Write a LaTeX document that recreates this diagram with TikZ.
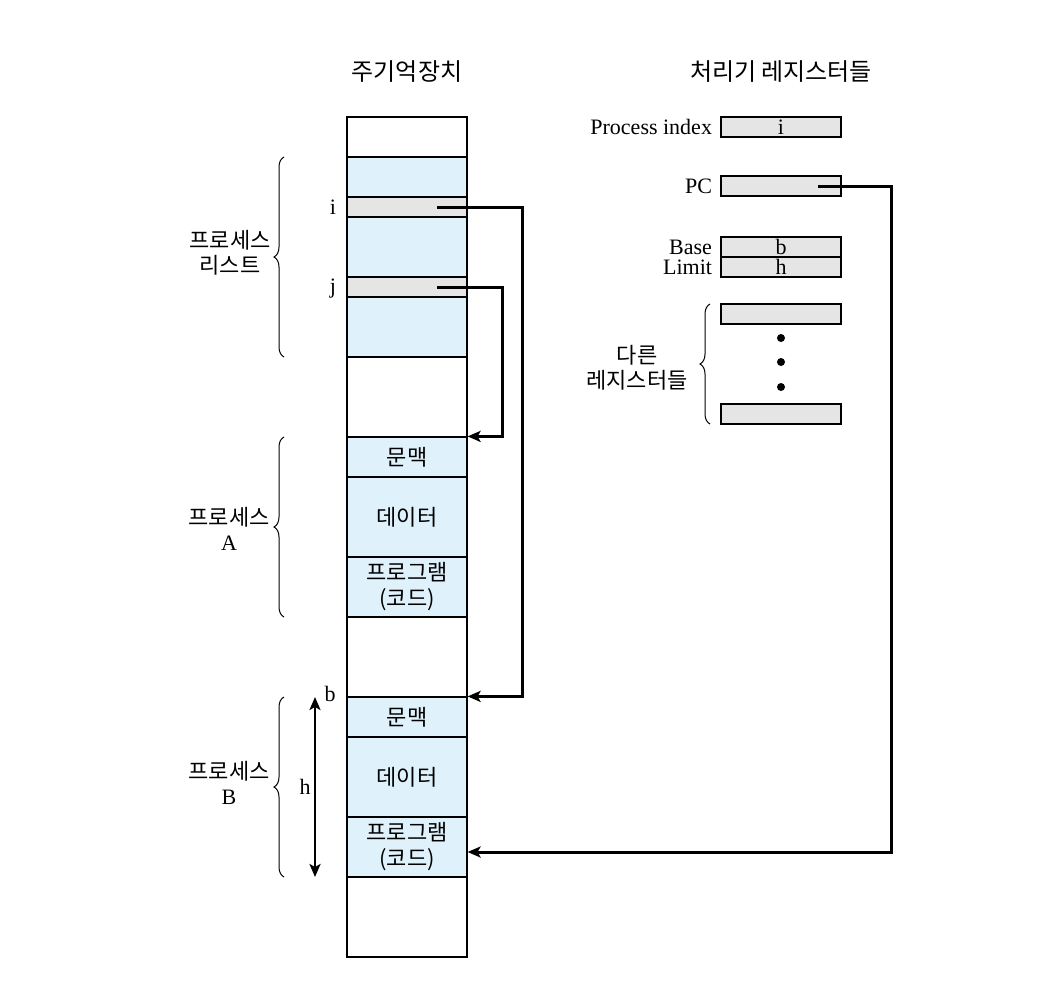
\documentclass[tikz,border=0pt]{standalone}
\usepackage{fontspec}
\setmainfont{Liberation Serif}
\newfontfamily\kr{Noto Sans CJK KR}
\usetikzlibrary{arrows.meta,decorations.pathreplacing,positioning}
\definecolor{memblue}{RGB}{223,241,251}
\definecolor{reggray}{RGB}{229,229,229}

\begin{document}
\begin{tikzpicture}[x=0.5pt,y=-0.5pt,
    cell/.style ={rectangle, draw, line width=0.6pt, minimum width=60pt, inner sep=0pt, align=center, font=\fontsize{11}{13}\selectfont\kr},
    reg/.style ={rectangle, draw, line width=0.6pt, fill=reggray, minimum width=60pt, minimum height=10pt, inner sep=0pt, font=\fontsize{11}{12}\selectfont},
    tag/.style ={inner sep=1pt, font=\fontsize{11}{12}\selectfont},
    txt/.style ={inner sep=1pt, align=center, font=\fontsize{11}{12.5}\selectfont\kr},
    curly/.style ={decorate, decoration={brace, amplitude=5pt}, line width=0.5pt},
    link/.style ={line width=1.5pt, -{Stealth[length=6.5pt, width=5.5pt, inset=1.5pt]}}]
   \useasboundingbox (0,0) rectangle (1055,1003);

   % main memory
   \node[cell, minimum height=20pt] (m0) at (407,137) {};
   \node[cell, fill=memblue, minimum height=20pt] (m1) at (407,177) {};
   \node[cell, fill=reggray, minimum height=10pt] (mi) at (407,207) {};
   \node[cell, fill=memblue, minimum height=30pt] (m2) at (407,247) {};
   \node[cell, fill=reggray, minimum height=10pt] (mj) at (407,287) {};
   \node[cell, fill=memblue, minimum height=30pt] (m3) at (407,327) {};
   \node[cell, minimum height=40pt] (m4) at (407,397) {};
   \node[cell, fill=memblue, minimum height=20pt] (a1) at (407,457) {문맥};
   \node[cell, fill=memblue, minimum height=40pt] (a2) at (407,517) {데이터};
   \node[cell, fill=memblue, minimum height=30pt] (a3) at (407,587) {프로그램\\(코드)};
   \node[cell, minimum height=40pt] (m5) at (407,657) {};
   \node[cell, fill=memblue, minimum height=20pt] (b1) at (407,717) {문맥};
   \node[cell, fill=memblue, minimum height=40pt] (b2) at (407,777) {데이터};
   \node[cell, fill=memblue, minimum height=30pt] (b3) at (407,847) {프로그램\\(코드)};
   \node[cell, minimum height=40pt] (m6) at (407,917) {};

   \node[txt, font=\fontsize{12}{13}\selectfont\kr] (tMem) at (407,72) {주기억장치};
   \node[txt, font=\fontsize{12}{13}\selectfont\kr] (tReg) at (781,72) {처리기 레지스터들};

   \node[tag] (li) at (333,207) {i};
   \node[tag] (lj) at (333,289) {j};
   \node[tag] (lb) at (330,694) {b};
   \node[tag] (lh) at (305,787) {h};

   % processor registers
   \node[reg] (pidx) at (781,127) {i};
   \node[reg] (pc) at (781,186) {};
   \node[reg] (base) at (781,247) {b};
   \node[reg] (limit) at (781,267) {h};
   \node[reg] (r1) at (781,314) {};
   \node[reg] (r2) at (781,414) {};
   \node[tag, left=3pt of pidx] (lpidx) {Process index};
   \node[tag, left=3pt of pc] (lpc) {PC};
   \node[tag, left=3pt of base] (lbase) {Base};
   \node[tag, left=3pt of limit] (llimit) {Limit};
   \fill (781,338) circle (2pt);
   \fill (781,362) circle (2pt);
   \fill (781,387) circle (2pt);

   \coordinate (ip) at (437,207);
   \coordinate (jp) at (437,287);
   \coordinate (pcp) at (818,186);

   \draw[link] (ip) -- ++(85,0) |- (b1.north east);
   \draw[link] (jp) -- ++(65,0) |- (a1.north east);
   \draw[link] (pcp) -- ++(73,0) |- ([yshift=-2.5pt]b3.east);

   \draw[line width=1.2pt, {Stealth[length=6.5pt, width=5.5pt, inset=1.5pt]}-{Stealth[length=6.5pt, width=5.5pt, inset=1.5pt]}] (315,697) -- (315,877);

   % braces
   \draw[curly] (284,357) -- (284,157);
   \draw[curly] (284,617) -- (284,437);
   \draw[curly] (284,877) -- (284,697);
   \draw[curly] (710,424) -- (710,304);

   \node[txt] (lList) at (230,253) {프로세스\\리스트};
   \node[txt] (lA) at (229,529) {프로세스\\{\rmfamily A}};
   \node[txt] (lB) at (229,783) {프로세스\\{\rmfamily B}};
   \node[txt] (lOther) at (637,368) {다른\\레지스터들};

 \end{tikzpicture}
\end{document}
